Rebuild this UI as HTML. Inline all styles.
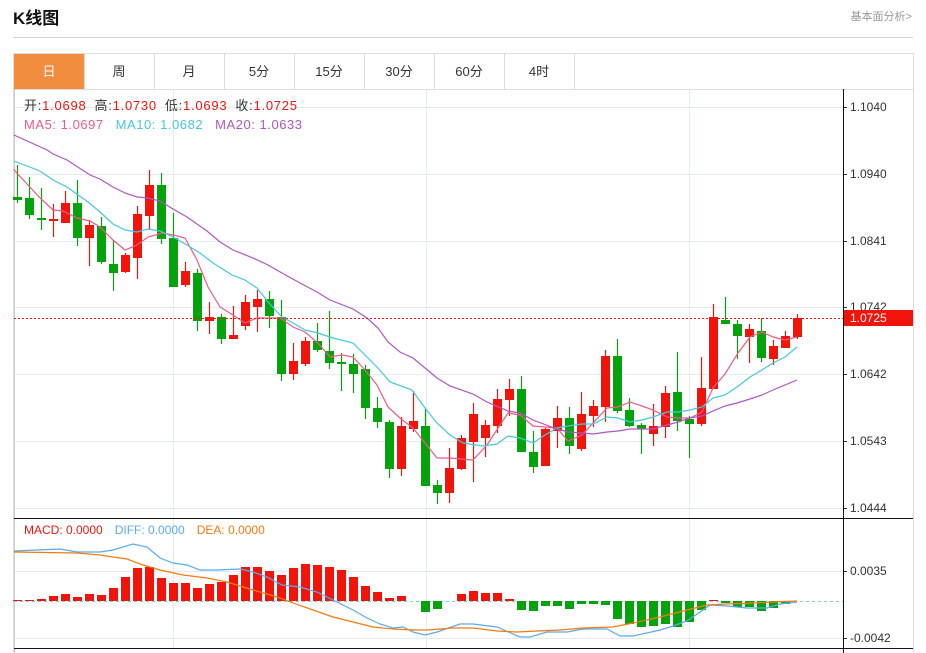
<!DOCTYPE html>
<html><head><meta charset="utf-8"><style>
body{margin:0;background:#fff;width:926px;height:653px;overflow:hidden;font-family:"Liberation Sans","Noto Sans CJK SC",sans-serif}
</style></head><body>
<svg id="s" width="926" height="653" xmlns="http://www.w3.org/2000/svg" style="position:absolute;left:0;top:0" font-family="'Liberation Sans','Noto Sans CJK SC',sans-serif">
<text x="13" y="24" font-size="17" font-weight="bold" fill="#111">K线图</text>
<text x="912" y="20" font-size="11" fill="#999" text-anchor="end">基本面分析&gt;</text>
<line x1="13" y1="37.5" x2="913" y2="37.5" stroke="#d5d5d5"/>
<rect x="13.5" y="53.5" width="900" height="610" fill="none" stroke="#ddd"/>
<rect x="14" y="54" width="70" height="35" fill="#f28c3e"/>
<g id="tabs"></g>
<line x1="14" y1="89.5" x2="913" y2="89.5" stroke="#ddd"/>
<g id="g"></g>
</svg>
<script>
var S='',g=document.getElementById('g');
function L(x1,y1,x2,y2,c,w,d){S+='<line x1="'+x1+'" y1="'+y1+'" x2="'+x2+'" y2="'+y2+'" stroke="'+c+'" stroke-width="'+(w||1)+'"'+(d?' stroke-dasharray="'+d+'"':'')+'/>';}
function T(x,y,t,c,s,a){S+='<text x="'+x+'" y="'+y+'" fill="'+c+'" font-size="'+(s||12)+'"'+(a?' text-anchor="'+a+'"':'')+'>'+t+'</text>';}
var tabs=['日','周','月','5分','15分','30分','60分','4时'],ts='';
for(var i=0;i<tabs.length;i++){var x=14+i*70;ts+='<text x="'+(x+35)+'" y="76" font-size="13" text-anchor="middle" fill="'+(i==0?'#fff':'#333')+'">'+tabs[i]+'</text><line x1="'+(x+70.5)+'" y1="54" x2="'+(x+70.5)+'" y2="89" stroke="#ddd"/>';}
document.getElementById('tabs').innerHTML=ts;
var gy=[107,174,241,307,374,441,508],lab=['1.1040','1.0940','1.0841','1.0742','1.0642','1.0543','1.0444'];
gy.forEach(function(y,i){L(14,y+.5,843,y+.5,'#e3ebf3');L(843,y+.5,847,y+.5,'#333');T(850,y+4,lab[i],'#333',12);});
[571,638].forEach(function(y,i){L(14,y+.5,843,y+.5,'#e3ebf3');L(843,y+.5,847,y+.5,'#333');T(850,y+4,['0.0035','-0.0042'][i],'#333',12);});
[173,426,689].forEach(function(x){L(x+.5,89,x+.5,648,'#e3ebf3');});
L(14.5,89,14.5,653,'#ccc');
var C=[[197,200,165,203,0],[198,215,177,219,0],[218,220,188,230,0],[220,219,204,237,1],[223,203,191,223,1],[203,238,180,246,0],[238,225,220,266,1],[226,262,217,264,0],[264,273,240,291,0],[272,255,253,273,1],[258,214,206,279,1],[216,185,170,230,1],[185,239,173,244,0],[238,287,213,287,0],[285,271,262,287,1],[273,321,269,331,0],[321,317,302,334,1],[317,339,314,344,0],[339,335,306,339,1],[326,302,295,330,1],[307,299,290,332,1],[299,316,291,328,0],[317,374,300,381,0],[374,361,343,380,1],[364,341,337,366,1],[341,350,323,352,0],[351,363,311,369,0],[362,364,353,391,0],[364,374,354,393,0],[369,408,365,419,0],[408,422,397,428,0],[422,469,420,478,0],[469,426,417,476,1],[429,421,391,432,1],[426,486,408,486,0],[485,493,480,504,0],[493,468,448,503,1],[469,438,435,470,1],[442,414,403,482,1],[438,425,420,457,1],[426,399,389,433,1],[400,389,379,416,1],[389,452,376,452,0],[452,467,431,473,0],[466,429,428,466,1],[431,418,406,448,1],[418,446,407,454,0],[449,414,392,451,1],[416,406,400,427,1],[407,356,350,422,1],[356,411,339,413,0],[410,426,398,427,0],[425,429,423,454,0],[434,426,404,446,1],[427,393,386,438,1],[392,421,352,431,0],[419,424,416,458,0],[424,388,357,426,1],[389,317,304,389,1],[320,324,297,324,0],[324,336,320,359,0],[337,329,324,363,1],[331,358,318,362,0],[359,346,340,365,1],[348,336,331,348,1],[337,318,314,339,1]];
var R='#f2140a',G='#05a30b';
C.forEach(function(c,i){var x=17.5+i*12,col=c[4]?R:G;L(x,c[2],x,c[3],col,1.2);var t=Math.min(c[0],c[1]),h=Math.max(Math.abs(c[0]-c[1]),2);S+='<rect x="'+(x-4.5)+'" y="'+t+'" width="9" height="'+h+'" fill="'+col+'"/>';});
function P(pts,c){S+='<polyline fill="none" stroke="'+c+'" stroke-width="1.2" points="'+pts+'"/>';}
P('14,169 15,171 40,198 53,210 63,211 77,218 90,221 100,227 113,240 125,250 137,245 148,237 162,233 173,235 185,238 197,260 208,287 220,307 233,315 245,323 257,318 268,318 280,318 293,327 305,332 318,343 330,357 342,355 353,357 365,370 377,385 388,407 400,418 413,428 425,443 437,458 450,458 473,460 487,445 508,413 520,415 533,426 545,427 557,428 568,441 582,435 593,423 607,408 618,407 630,402 642,406 653,410 667,417 678,418 690,418 702,412 713,388 725,374 738,353 750,337 762,332 773,337 785,340 797,337','#ef5a86');
P('14,161 40,171 53,180 67,187 88,202 100,212 113,224 125,230 137,232 148,229 160,231 173,237 187,245 200,253 213,263 232,275 245,280 257,288 268,302 282,317 293,323 305,330 318,333 333,338 353,343 367,357 377,367 390,382 412,390 425,408 437,423 450,435 463,443 483,446 497,444 508,436 520,438 533,443 545,435 557,428 568,426 582,424 593,424 607,417 618,418 630,422 642,420 653,417 667,412 678,412 690,410 702,407 713,398 725,395 737,387 750,377 762,370 773,363 785,357 797,347','#45c8de');
P('14,135 47,150 53,154 67,160 90,175 100,179 113,187 125,193 137,197 148,198 160,201 173,209 187,217 207,231 220,242 233,250 253,258 268,265 282,273 300,283 317,292 330,300 353,309 367,318 378,328 388,342 400,352 413,358 425,368 437,378 450,386 473,394 487,402 508,411 520,413 533,420 557,429 568,432 582,433 593,434 607,432 618,431 630,429 653,429 667,425 678,422 690,418 702,416 713,411 725,406 737,403 750,399 762,395 773,390 785,385 797,380','#b055c4');
L(14,318.5,843,318.5,'#f2140a',1,'2,2');
S+='<rect x="843" y="310" width="70" height="16" fill="#f2140a"/>';T(850,322,'1.0725','#fff',12);
S+='<text x="24" y="110" font-size="13" textLength="273" lengthAdjust="spacing"><tspan fill="#333">开:</tspan><tspan fill="#f2140a">1.0698</tspan><tspan fill="#333" dx="8">高:</tspan><tspan fill="#f2140a">1.0730</tspan><tspan fill="#333" dx="8">低:</tspan><tspan fill="#f2140a">1.0693</tspan><tspan fill="#333" dx="8">收:</tspan><tspan fill="#f2140a">1.0725</tspan></text>';
S+='<text x="24" y="129" font-size="13" textLength="278" lengthAdjust="spacing"><tspan fill="#ef5a86">MA5: 1.0697</tspan><tspan fill="#45c8de" dx="12">MA10: 1.0682</tspan><tspan fill="#b055c4" dx="12">MA20: 1.0633</tspan></text>';
L(14,518.5,913,518.5,'#111');L(14,648.5,913,648.5,'#111');L(843.5,89,843.5,653,'#111');
L(14,601.5,843,601.5,'#7fcbe8',1,'3,3');
var M=[1,1,2,5,7,4,7,6,13,24,33,34,23,18,18,13,17,19,26,34,34,30,26,33,37,36,34,31,24,15,9,3,5,0,-11,-8,0,7,10,8,8,2,-9,-10,-5,-5,-8,-3,-3,-4,-18,-23,-26,-25,-23,-26,-21,-9,1,-2,-6,-6,-10,-7,-3,0];
M.forEach(function(v,i){if(!v)return;var x=17.5+i*12-4.5;S+='<rect x="'+x+'" y="'+(v>0?601-v:601)+'" width="9" height="'+Math.abs(v)+'" fill="'+(v>0?R:G)+'"/>';});
P('14,551 60,549 77,552 100,552 113,550 133,544 147,547 160,558 173,563 187,565 200,570 217,570 240,569 253,572 267,577 282,585 300,587 317,592 337,602 353,610 367,618 380,624 393,628 403,627 413,632 425,635 437,632 460,624 473,624 497,627 520,637 530,637 547,632 567,632 583,629 607,629 620,636 633,636 660,630 673,626 687,621 700,612 710,605 727,606 747,608 767,608 780,604 797,602','#5aaaf0');
P('14,552 77,553 100,555 113,557 127,559 140,564 160,570 183,575 207,578 227,582 253,590 277,597 293,603 313,610 333,617 353,622 373,627 393,629 413,630 427,630 453,628 473,628 497,631 517,632 537,631 560,630 583,628 613,627 633,623 660,617 687,610 707,605 727,604 753,603 773,602 797,601','#f57a10');
S+='<text x="24" y="534" font-size="12"><tspan fill="#f2140a">MACD: 0.0000</tspan><tspan fill="#5aaaf0" dx="12">DIFF: 0.0000</tspan><tspan fill="#f57a10" dx="12">DEA: 0.0000</tspan></text>';
g.innerHTML=S;
</script>
</body></html>
